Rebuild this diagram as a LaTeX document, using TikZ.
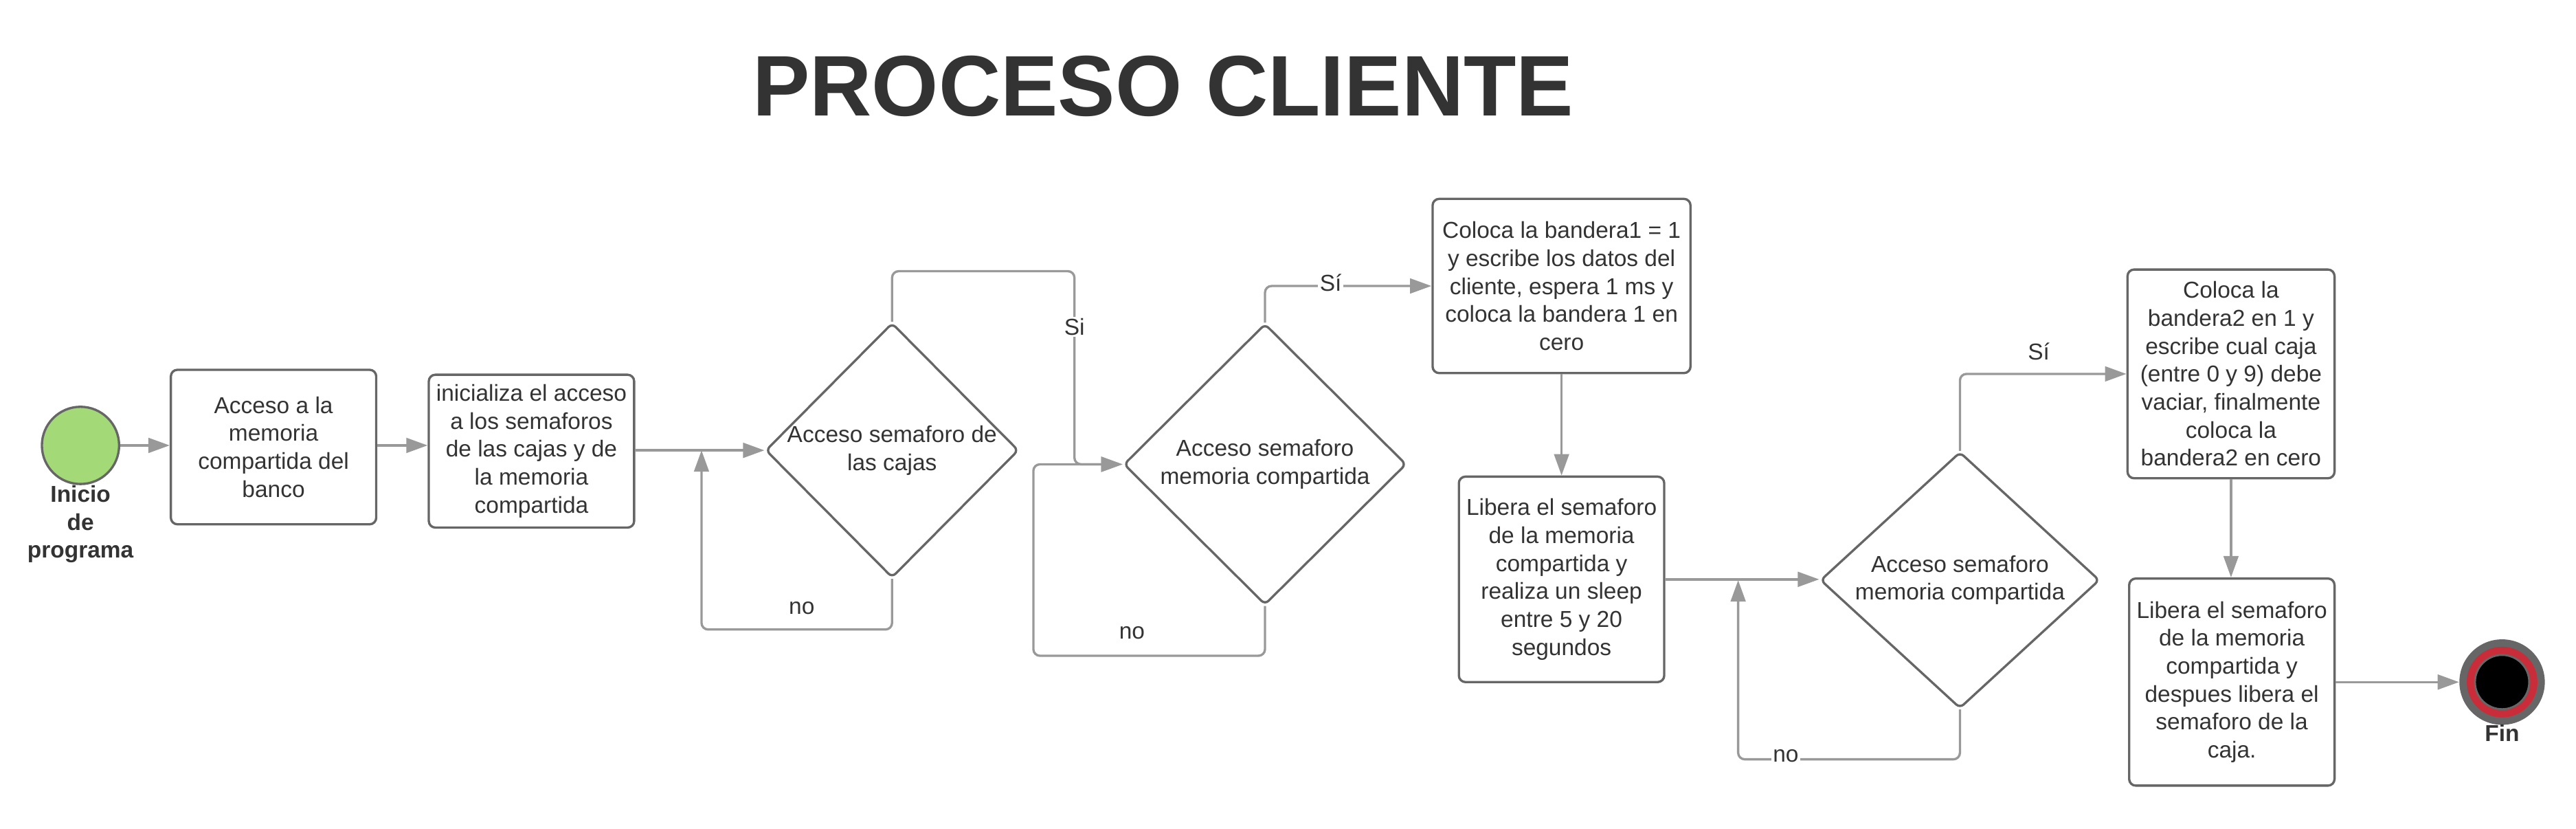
\documentclass[tikz,border=0pt]{standalone}
\usepackage{fontspec}
\setmainfont{Liberation Sans}
\usetikzlibrary{arrows.meta,shapes.geometric}
\definecolor{txt}{HTML}{333333}
\definecolor{bord}{HTML}{666666}
\definecolor{conncol}{HTML}{999999}
\definecolor{startg}{HTML}{A3D977}
\definecolor{endr}{HTML}{C92D39}
\begin{document}
\begin{tikzpicture}[x=1pt,y=-1pt,
  proc/.style={draw=bord, line width=1.4pt, rounded corners=4pt, fill=white, align=center, text=txt, font=\fontsize{14}{17}\selectfont, inner sep=0pt},
  dec/.style={diamond, draw=bord, line width=1.4pt, rounded corners=3pt, inner sep=0pt, fill=white},
  dtext/.style={align=center, text=txt, font=\fontsize{14}{17}\selectfont},
  conn/.style={draw=conncol, line width=1.4pt, rounded corners=4pt, -{Triangle[length=13pt,width=9pt]}},
  lbl/.style={text=txt, font=\fontsize{14}{17}\selectfont, inner sep=1pt},
  lblw/.style={lbl, fill=white},
  boldlbl/.style={text=txt, font=\bfseries\fontsize{14}{17}\selectfont, align=center, inner sep=0pt},
]
\useasboundingbox (0,0) rectangle (1568,504);

% title
\node[font=\bfseries\fontsize{52.3}{60}\selectfont, text=txt, anchor=base, inner sep=0pt] (title) at (708,70.5) {PROCESO CLIENTE};

% start
\node[circle, draw=bord, line width=1.4pt, fill=startg, minimum size=47pt, inner sep=0pt] (start) at (49,271) {};
\node[boldlbl] (startlbl) at (49,319) {Inicio\\de\\programa};

% boxes
\node[proc, minimum width=125pt, minimum height=94pt] (b1) at (166.5,272) {Acceso a la\\memoria\\compartida del\\banco};
\node[proc, minimum width=125pt, minimum height=93pt] (b2) at (323.5,274.5) {inicializa el acceso\\a los semaforos\\de las cajas y de\\la memoria\\compartida};
\node[dec, minimum width=154pt, minimum height=155pt, label={[dtext]center:{Acceso semaforo de\\las cajas}}] (d1) at (543,274) {};
\node[dec, minimum width=172pt, minimum height=171pt, label={[dtext]center:{Acceso semaforo\\memoria compartida}}] (d2) at (770,282.5) {};
\node[proc, minimum width=157pt, minimum height=106pt] (b3) at (950.5,174) {Coloca la bandera1 = 1\\y escribe los datos del\\cliente, espera 1 ms y\\coloca la bandera 1 en\\cero};
\node[proc, minimum width=125pt, minimum height=125pt] (b4) at (950.5,352.5) {Libera el semaforo\\de la memoria\\compartida y\\realiza un sleep\\entre 5 y 20\\segundos};
\node[dec, minimum width=170pt, minimum height=156pt, label={[dtext]center:{Acceso semaforo\\memoria compartida}}] (d3) at (1193,353) {};
\node[proc, minimum width=126pt, minimum height=127pt] (b5) at (1358,227.5) {Coloca la\\bandera2 en 1 y\\escribe cual caja\\(entre 0 y 9) debe\\vaciar, finalmente\\coloca la\\bandera2 en cero};
\node[proc, minimum width=125pt, minimum height=126pt] (b6) at (1358.5,415) {Libera el semaforo\\de la memoria\\compartida y\\despues libera el\\semaforo de la\\caja.};

% end
\node[circle, fill=bord, minimum size=52pt, inner sep=0pt] (fin) at (1523,415) {};
\node[circle, fill=endr, minimum size=43pt, inner sep=0pt] (finred) at (fin) {};
\node[circle, draw=bord, line width=1.2pt, fill=black, minimum size=33pt, inner sep=0pt] (fincore) at (fin) {};
\node[boldlbl] (finlbl) at (1523,446) {Fin};

% connectors
\draw[conn] (start.east) -- (b1.west |- start.east);
\draw[conn] (b1.east |- start.east) -- (b2.west |- start.east);
\draw[conn] (b2.east |- d1.west) -- (d1.west);

\coordinate (j1) at (427,383);
\draw[conn] (d1.south) |- (j1) -- (j1 |- d1.west);
\node[lbl] (no1) at (488,370) {no};

\coordinate (s1) at (654,165);
\draw[conn] (d1.north) |- (s1) -- (s1 |- d2.west) -- (d2.west);
\node[lblw] (si1) at (654,199) {Si};

\coordinate (j2) at (629,399);
\draw[conn] (d2.south) |- (j2) |- (d2.west);
\node[lbl] (no2) at (689,385) {no};

\draw[conn] (d2.north) |- (b3.west);
\node[lblw] (si2) at (810,172) {Sí};

\draw[conn] (b3.south) -- (b4.north);
\draw[conn] (b4.east) -- (d3.west |- b4.east);

\coordinate (j3) at (1058,462);
\draw[conn] (d3.south) |- (j3) -- (j3 |- d3.west);
\node[lblw] (no3) at (1087,460) {no};

\draw[conn] (d3.north) |- (b5.west);
\node[lbl] (si3) at (1241,214) {Sí};

\draw[conn] (b5.south) -- (b5.south |- b6.north);
\draw[conn] (b6.east) -- (fin.west);
\end{tikzpicture}
\end{document}
